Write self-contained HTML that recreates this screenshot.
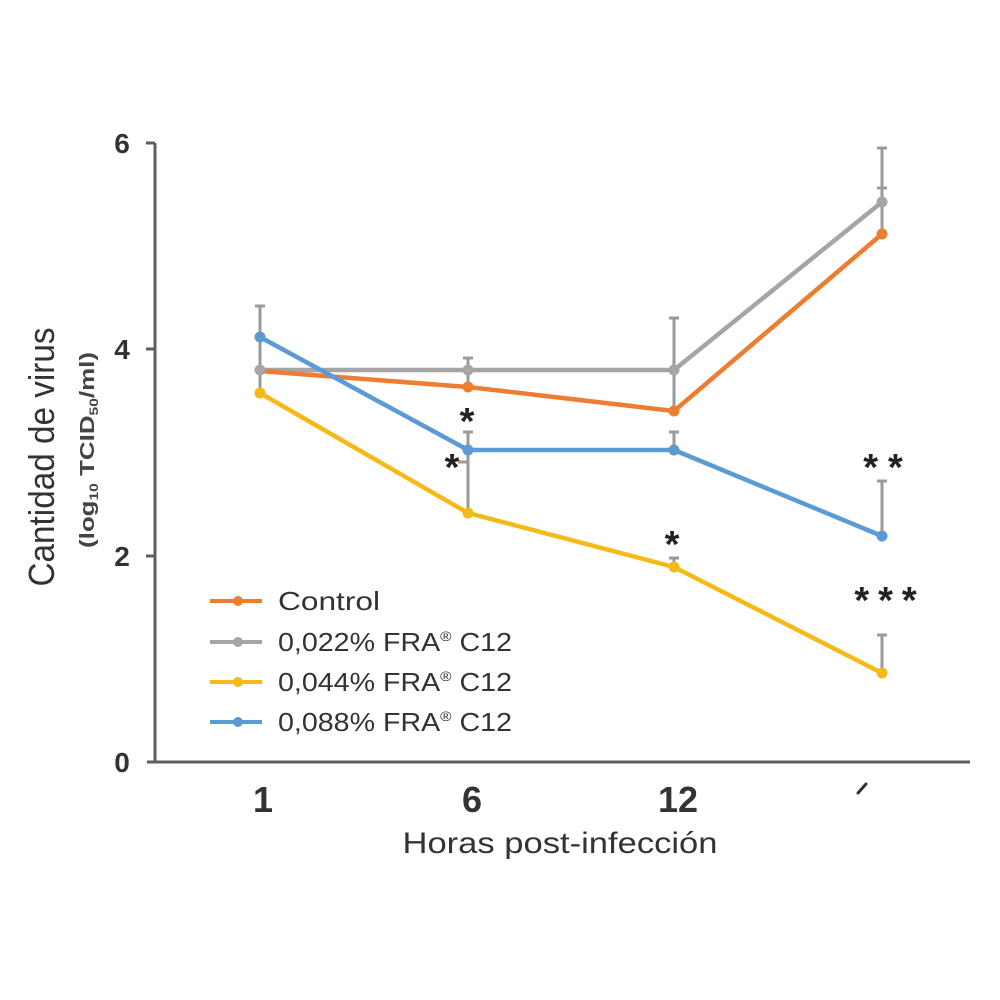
<!DOCTYPE html>
<html><head><meta charset="utf-8"><style>
html,body{margin:0;padding:0;background:#fff;}
svg{display:block;}
</style></head><body>
<svg width="1000" height="1000" viewBox="0 0 1000 1000" xmlns="http://www.w3.org/2000/svg" font-family="'Liberation Sans', Arial, sans-serif">
<rect width="1000" height="1000" fill="#ffffff"/>
<!-- axes -->
<g stroke="#5e5e5e" stroke-width="3" fill="none">
<line x1="155" y1="143" x2="155" y2="763"/>
<line x1="147" y1="762" x2="970" y2="762"/>
<line x1="146" y1="143" x2="155" y2="143"/>
<line x1="146" y1="349" x2="155" y2="349"/>
<line x1="146" y1="556" x2="155" y2="556"/>
</g>
<!-- y tick labels -->
<g fill="#333" font-weight="bold" font-size="28" text-anchor="middle">
<text x="122" y="153">6</text>
<text x="122" y="359">4</text>
<text x="122" y="566">2</text>
<text x="122" y="772">0</text>
</g>
<!-- y axis titles -->
<text transform="translate(54,457) rotate(-90)" text-anchor="middle" font-size="36" fill="#333" textLength="259" lengthAdjust="spacingAndGlyphs">Cantidad de virus</text>
<text transform="translate(94,450) rotate(-90)" text-anchor="middle" font-size="20" font-weight="bold" fill="#444" textLength="196" lengthAdjust="spacingAndGlyphs">(log<tspan font-size="12" dy="4">10</tspan><tspan dy="-4"> TCID</tspan><tspan font-size="12" dy="4">50</tspan><tspan dy="-4">/ml)</tspan></text>
<!-- x tick labels -->
<g fill="#333" font-weight="bold" font-size="36" text-anchor="middle">
<text x="263" y="812">1</text>
<text x="472" y="812">6</text>
<text x="678" y="812">12</text>
</g>
<path d="M858 793 L866 784" stroke="#333" stroke-width="3" stroke-linecap="round"/>
<text x="560" y="853" text-anchor="middle" font-size="30" fill="#333" textLength="315" lengthAdjust="spacingAndGlyphs">Horas post-infección</text>
<!-- error bars -->
<g stroke="#9a9a9a" stroke-width="3" fill="none">
<line x1="260" y1="306" x2="260" y2="390"/><line x1="255" y1="306" x2="265" y2="306"/>
<line x1="468" y1="358" x2="468" y2="388"/><line x1="463" y1="358" x2="473" y2="358"/>
<line x1="468" y1="432" x2="468" y2="511"/><line x1="463" y1="432" x2="473" y2="432"/>
<line x1="458" y1="462" x2="468" y2="462"/>
<line x1="674" y1="318" x2="674" y2="412"/><line x1="669" y1="318" x2="679" y2="318"/>
<line x1="674" y1="432" x2="674" y2="450"/><line x1="669" y1="432" x2="679" y2="432"/>
<line x1="674" y1="558" x2="674" y2="567"/><line x1="669" y1="558" x2="679" y2="558"/>
<line x1="882" y1="148" x2="882" y2="235"/><line x1="877" y1="148" x2="887" y2="148"/>
<line x1="877" y1="188" x2="887" y2="188"/>
<line x1="882" y1="481" x2="882" y2="536"/><line x1="877" y1="481" x2="887" y2="481"/>
<line x1="882" y1="635" x2="882" y2="673"/><line x1="877" y1="635" x2="887" y2="635"/>
</g>
<!-- series -->
<g fill="none" stroke-width="4.5" stroke-linejoin="round">
<polyline stroke="#A5A5A5" points="260,370 468,370 674,370 882,202"/>
<polyline stroke="#ED7D31" points="260,371 468,387 674,411 882,234"/>
<polyline stroke="#F5BA17" points="260,393 468,513 674,567 882,673"/>
<polyline stroke="#5B9BD5" points="260,337 468,450 674,450 882,536"/>
</g>
<g>
<g fill="#A5A5A5"><circle cx="260" cy="370" r="5.5"/><circle cx="468" cy="370" r="5.5"/><circle cx="674" cy="370" r="5.5"/><circle cx="882" cy="202" r="5.5"/></g>
<g fill="#ED7D31"><circle cx="468" cy="387" r="5.5"/><circle cx="674" cy="411" r="5.5"/><circle cx="882" cy="234" r="5.5"/></g>
<g fill="#F5BA17"><circle cx="260" cy="393" r="5.5"/><circle cx="468" cy="513" r="5.5"/><circle cx="674" cy="567" r="5.5"/><circle cx="882" cy="673" r="5.5"/></g>
<g fill="#5B9BD5"><circle cx="260" cy="337" r="5.5"/><circle cx="468" cy="450" r="5.5"/><circle cx="674" cy="450" r="5.5"/><circle cx="882" cy="536" r="5.5"/></g>
</g>
<!-- significance -->
<g fill="#222" font-size="38" font-weight="bold" text-anchor="middle">
<text x="467" y="434">*</text>
<text x="452" y="480">*</text>
<text x="672" y="557">*</text>
<text x="888" y="480" letter-spacing="10">**</text>
<text x="890" y="613" letter-spacing="9">***</text>
</g>
<!-- legend -->
<g stroke-width="4">
<line x1="210" y1="601" x2="262" y2="601" stroke="#ED7D31"/><circle cx="238" cy="601" r="5" fill="#ED7D31"/>
<line x1="210" y1="642" x2="262" y2="642" stroke="#A5A5A5"/><circle cx="238" cy="642" r="5" fill="#A5A5A5"/>
<line x1="210" y1="682" x2="262" y2="682" stroke="#F5BA17"/><circle cx="238" cy="682" r="5" fill="#F5BA17"/>
<line x1="210" y1="722" x2="262" y2="722" stroke="#5B9BD5"/><circle cx="238" cy="722" r="5" fill="#5B9BD5"/>
</g>
<g fill="#333" font-size="26">
<text x="278" y="610" textLength="102" lengthAdjust="spacingAndGlyphs">Control</text>
<text x="278" y="651" textLength="234" lengthAdjust="spacingAndGlyphs">0,022% FRA<tspan font-size="14" dy="-10">®</tspan><tspan dy="10"> C12</tspan></text>
<text x="278" y="691" textLength="234" lengthAdjust="spacingAndGlyphs">0,044% FRA<tspan font-size="14" dy="-10">®</tspan><tspan dy="10"> C12</tspan></text>
<text x="278" y="731" textLength="234" lengthAdjust="spacingAndGlyphs">0,088% FRA<tspan font-size="14" dy="-10">®</tspan><tspan dy="10"> C12</tspan></text>
</g>
</svg>
</body></html>
